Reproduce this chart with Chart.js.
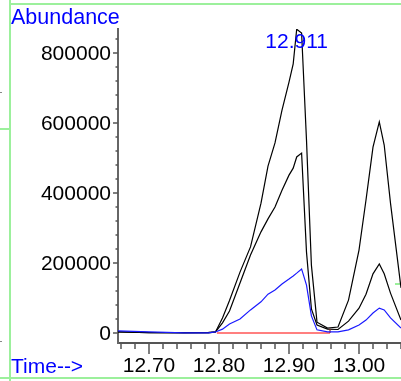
<!DOCTYPE html>
<html>
<head>
<meta charset="utf-8">
<script src="https://cdn.jsdelivr.net/npm/chart.js@4/dist/chart.umd.min.js"></script>
<style>
html,body{margin:0;padding:0;background:#fff;}
#wrap{position:relative;width:401px;height:381px;overflow:hidden;}
canvas{display:block;}
</style>
</head>
<body>
<div id="wrap"><canvas id="c" width="401" height="381"></canvas></div>
<script>
// ---- data ----
const times = [12.655, 12.70, 12.75, 12.785, 12.795, 12.805, 12.815, 12.83, 12.845, 12.86, 12.87, 12.88, 12.89, 12.90, 12.906, 12.911, 12.918, 12.925, 12.932, 12.94, 12.955, 12.97, 12.985, 13.00, 13.01, 13.02, 13.029, 13.036, 13.045, 13.06];
const seriesA = [3000, 1000, 1000, 2000, 3000, 43000, 93000, 174000, 246000, 371000, 477000, 543000, 637000, 717000, 769000, 868000, 857000, 551000, 194000, 31000, 14000, 17000, 94000, 237000, 380000, 531000, 603000, 537000, 371000, 129000];
const seriesB = [3000, 1000, 500, 500, 3000, 29000, 63000, 143000, 223000, 289000, 326000, 360000, 408000, 451000, 471000, 503000, 514000, 231000, 69000, 23000, 11000, 10000, 34000, 71000, 111000, 169000, 197000, 169000, 114000, 37000];
const seriesC = [6000, 3000, 500, 500, 3000, 11000, 26000, 40000, 66000, 89000, 111000, 123000, 140000, 154000, 163000, 171000, 183000, 137000, 49000, 9000, 3000, 3000, 9000, 23000, 37000, 57000, 71000, 66000, 43000, 14000];
const baselineTimes = [12.797, 12.9586];
const baselineValues = [0, 0];
const baselineEndTimes = [12.9586, 12.9586];
const baselineEndValues = [0, 12000];
const yTickValues = [0, 200000, 400000, 600000, 800000];
const xTickLabels = ['12.70', '12.80', '12.90', '13.00'];
const peakLabel = '12.911';
const peakTime = 12.911;
const peakValue = 868000;
const yTitle = 'Abundance';
const xTitle = 'Time-->';

const pts = (xs, ys) => xs.map((x, i) => ({x: x, y: ys[i]}));
const FONT = 'Liberation Sans, Arial, sans-serif';

const decor = {
  id: 'decor',
  beforeDraw(chart) {
    const ctx = chart.ctx;
    ctx.save();
    ctx.strokeStyle = '#9cf09c';
    ctx.lineWidth = 2;
    ctx.beginPath();
    ctx.moveTo(10, 4); ctx.lineTo(401, 4);
    ctx.moveTo(10, 0); ctx.lineTo(10, 381);
    ctx.moveTo(0, 378); ctx.lineTo(401, 378);
    ctx.moveTo(0, 129); ctx.lineTo(10, 129);
    ctx.moveTo(395, 284); ctx.lineTo(401, 284);
    ctx.stroke();
    ctx.strokeStyle = '#888';
    ctx.lineWidth = 1;
    ctx.beginPath();
    ctx.moveTo(0, 92.5); ctx.lineTo(2, 92.5);
    ctx.moveTo(0, 341.5); ctx.lineTo(2, 341.5);
    ctx.stroke();
    ctx.restore();
  },
  afterDraw(chart) {
    const ctx = chart.ctx;
    const xs = chart.scales.x, ys = chart.scales.y;
    const area = chart.chartArea;
    ctx.save();
    ctx.strokeStyle = '#555';
    ctx.lineWidth = 1.5;
    ctx.beginPath();
    // y ticks every 40000, major every 200000
    for (let k = 0; k * 40000 <= ys.max; k++) {
      const py = ys.getPixelForValue(k * 40000);
      const len = (k % 5 === 0) ? 5 : 2.5;
      ctx.moveTo(area.left - len, py); ctx.lineTo(area.left, py);
    }
    // x ticks every 0.02, major every 0.1
    for (let k = 633; k <= 653; k++) {
      const v = k * 2 / 100;
      const px = xs.getPixelForValue(v);
      const len = (k % 5 === 0) ? 11 : 6;
      ctx.moveTo(px, area.bottom); ctx.lineTo(px, area.bottom + len);
    }
    ctx.stroke();
    ctx.fillStyle = '#0000ff';
    ctx.textBaseline = 'alphabetic';
    ctx.font = '21.5px ' + FONT;
    ctx.textAlign = 'left';
    ctx.fillText(yTitle, 11, 23.5);
    ctx.font = '21px ' + FONT;
    ctx.fillText(xTitle, 11, 373);
    ctx.textAlign = 'center';
    ctx.fillText(peakLabel, xs.getPixelForValue(peakTime), ys.getPixelForValue(peakValue) + 19);
    ctx.restore();
  }
};

new Chart(document.getElementById('c'), {
  type: 'line',
  data: {
    datasets: [
      {data: pts(times, seriesC), borderColor: '#1a1aff', borderWidth: 1.2},
      {data: pts(baselineTimes, baselineValues), borderColor: '#ff0000', borderWidth: 1.2},
      {data: pts(baselineEndTimes, baselineEndValues), borderColor: '#8b2020', borderWidth: 1.2},
      {data: pts(times, seriesB), borderColor: '#000', borderWidth: 1.2},
      {data: pts(times, seriesA), borderColor: '#000', borderWidth: 1.2}
    ]
  },
  options: {
    responsive: false,
    animation: false,
    events: [],
    elements: {point: {radius: 0}, line: {tension: 0, fill: false}},
    layout: {padding: {top: 29, left: 0, right: 0, bottom: 0}},
    plugins: {legend: {display: false}, tooltip: {enabled: false}, title: {display: false}},
    scales: {
      x: {
        type: 'linear',
        min: 12.70 - 31 / 700,
        max: 13.06,
        afterFit(s) { s.height = 38; },
        afterBuildTicks(s) { s.ticks = xTickLabels.map(t => ({value: parseFloat(t)})); },
        ticks: {
          callback: v => v.toFixed(2),
          font: {family: FONT, size: 21},
          color: '#000',
          padding: 11,
          maxRotation: 0,
          autoSkip: false
        },
        grid: {display: false, drawTicks: false},
        border: {display: true, color: '#555', width: 2}
      },
      y: {
        type: 'linear',
        min: -28571,
        max: 868571,
        afterFit(s) { s.width = 118; },
        afterBuildTicks(s) { s.ticks = yTickValues.map(v => ({value: v})); },
        ticks: {
          callback: v => String(v),
          font: {family: FONT, size: 21},
          color: '#000',
          padding: 7,
          labelOffset: 1.5
        },
        grid: {display: false, drawTicks: false},
        border: {display: true, color: '#666', width: 2}
      }
    }
  },
  plugins: [decor]
});
</script>
</body>
</html>
